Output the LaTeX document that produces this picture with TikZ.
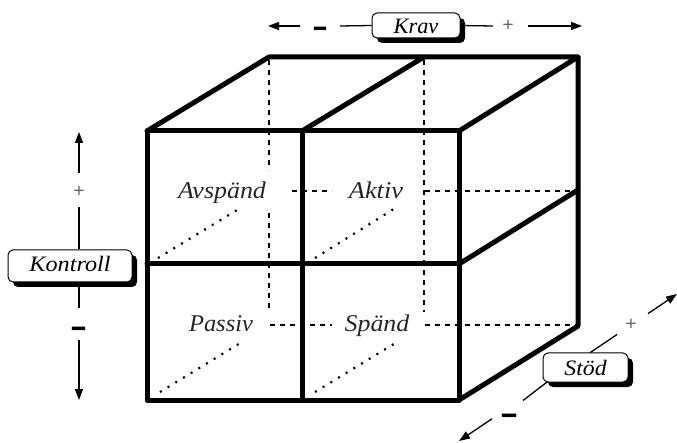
\documentclass[tikz,border=0pt]{standalone}
\usepackage{fontspec}
\setmainfont{Liberation Serif}
\usepackage{graphicx}
\usetikzlibrary{arrows.meta,shadows}
\pgfdeclarelayer{bg}
\pgfsetlayers{bg,main}
\begin{document}
\begin{tikzpicture}[x=1pt,y=-1pt,
  edge/.style={line width=5pt, line join=round, line cap=round},
  hid/.style={line width=1.6pt, dash pattern=on 5pt off 5pt},
  dotd/.style={line width=2.2pt, dash pattern=on 2pt off 7pt},
  axis/.style={line width=1.3pt},
  tip/.style={-{Triangle[length=11pt,width=8pt]}},
  tag/.style={draw, line width=1pt, rounded corners=5pt, fill=white, inner sep=0pt,
    font=\fontsize{22}{26}\selectfont\itshape,
    drop shadow={shadow xshift=5pt, shadow yshift=-5pt, fill=black, opacity=1}},
  celltext/.style={font=\fontsize{24}{28}\selectfont\itshape, text=black!85, anchor=base, inner sep=0pt},
  plussign/.style={font=\fontsize{20}{24}\selectfont\bfseries, text=black!60, inner sep=0pt},
  minussign/.style={font=\fontsize{20}{24}\selectfont\bfseries, inner sep=0pt, anchor=base},
]
\useasboundingbox (0,0) rectangle (677,443);

% cube corners
\coordinate (ftl) at (147,131); \coordinate (ftm) at (302,131); \coordinate (ftr) at (459,131);
\coordinate (fml) at (147,264); \coordinate (fmm) at (302,264); \coordinate (fmr) at (459,264);
\coordinate (fbl) at (147,400); \coordinate (fbm) at (302,400); \coordinate (fbr) at (459,400);
\coordinate (btl) at (269,57);  \coordinate (btm) at (424,57);  \coordinate (btr) at (578,57);
\coordinate (bmr) at (578,190); \coordinate (bbr) at (578,326);

% hidden edges
\draw[hid] (269,60) -- (269,170);
\draw[hid] (269,213) -- (269,312);
\draw[hid] (424,60) -- (424,312);
\draw[hid] (292,191) -- (332,191);
\draw[hid] (425,191) -- (576,191);
\draw[hid] (270,325) -- (332,325);
\draw[hid] (425,325) -- (576,325);
\draw[dotd] (158,258) -- (242,207);
\draw[dotd] (315,258) -- (397,207);
\draw[dotd] (160,392) -- (242,342);
\draw[dotd] (315,392) -- (397,342);

% visible edges
\draw[edge] (ftl) rectangle (fbr);
\draw[edge] (ftm) -- (fbm);
\draw[edge] (fml) -- (fmr);
\draw[edge] (ftl) -- (btl) -- (btr) -- (ftr);
\draw[edge] (ftm) -- (btm);
\draw[edge] (btr) -- (bbr) -- (fbr);
\draw[edge] (fmr) -- (bmr);

% cell labels
\node[celltext] (avs) at (222,199) {\scalebox{1.08}[1]{Avspänd}};
\node[celltext] (akt) at (376,199) {\scalebox{1.1}[1]{Aktiv}};
\node[celltext] (pas) at (221,332) {\scalebox{1.02}[1]{Passiv}};
\node[celltext] (spa) at (377,332) {\scalebox{1.08}[1]{Spänd}};

% tags
\node[tag, minimum width=88pt, minimum height=25pt, text height=18pt, text depth=1pt] (krav) at (416,25.5) {\scalebox{1.02}[1]{Krav}};
\node[tag, minimum width=124pt, minimum height=32pt, text height=14pt, text depth=2pt] (kon) at (70,266) {\scalebox{1.1}[1]{Kontroll}};
\node[tag, minimum width=85pt, minimum height=29pt, text height=16pt, text depth=1pt] (stod) at (585.5,367.5) {\scalebox{1.08}[1]{Stöd}};

% signs
\node[minussign] (kravm) at (320,41) {\scalebox{1.2}[2.5]{–}};
\node[plussign] (kravp) at (508,26) {+};
\node[plussign] (konp) at (79,192) {+};
\node[minussign] (konm) at (79,341) {\scalebox{1.3}[2.5]{–}};
\node[plussign] (stodp) at (631,325) {+};
\node[minussign] (stodm) at (509,427) {\scalebox{1.4}[2.5]{–}};

% axis coordinates
\coordinate (kravL) at (268,26); \coordinate (kravL1) at (300,26); \coordinate (kravL2) at (340,26);
\coordinate (kravR1) at (493,26); \coordinate (kravR2) at (528,26); \coordinate (kravR) at (582,26);
\coordinate (konT) at (79,132); \coordinate (konT1) at (79,173); \coordinate (konT2) at (79,207);
\coordinate (konB1) at (79,308); \coordinate (konB2) at (79,340); \coordinate (konB) at (79,400);
\coordinate (stodT) at (677,294); \coordinate (stodT1) at (648,313.6); \coordinate (stodT2) at (617,334.5);
\coordinate (stodT3) at (590,352.7); \coordinate (stodB3) at (551,379);
\coordinate (stodB2) at (523,400.5); \coordinate (stodB1) at (492,418.8); \coordinate (stodB) at (459,441);

\begin{pgfonlayer}{bg}
\draw[axis,tip] (kravL1) -- (kravL);
\draw[axis] (kravL2) -- (krav.west);
\draw[axis] (krav.east) -- (kravR1);
\draw[axis,tip] (kravR2) -- (kravR);
\draw[axis,tip] (konT1) -- (konT);
\draw[axis] (konT2) -- (konT2 |- kon.north);
\draw[axis] (konB1 |- kon.south) -- (konB1);
\draw[axis,tip] (konB2) -- (konB);
\draw[axis,tip] (stodT1) -- (stodT);
\draw[axis] (stodT2) -- (stodT3);
\draw[axis] (stodB3) -- (stodB2);
\draw[axis,tip] (stodB1) -- (stodB);
\end{pgfonlayer}
\end{tikzpicture}
\end{document}
